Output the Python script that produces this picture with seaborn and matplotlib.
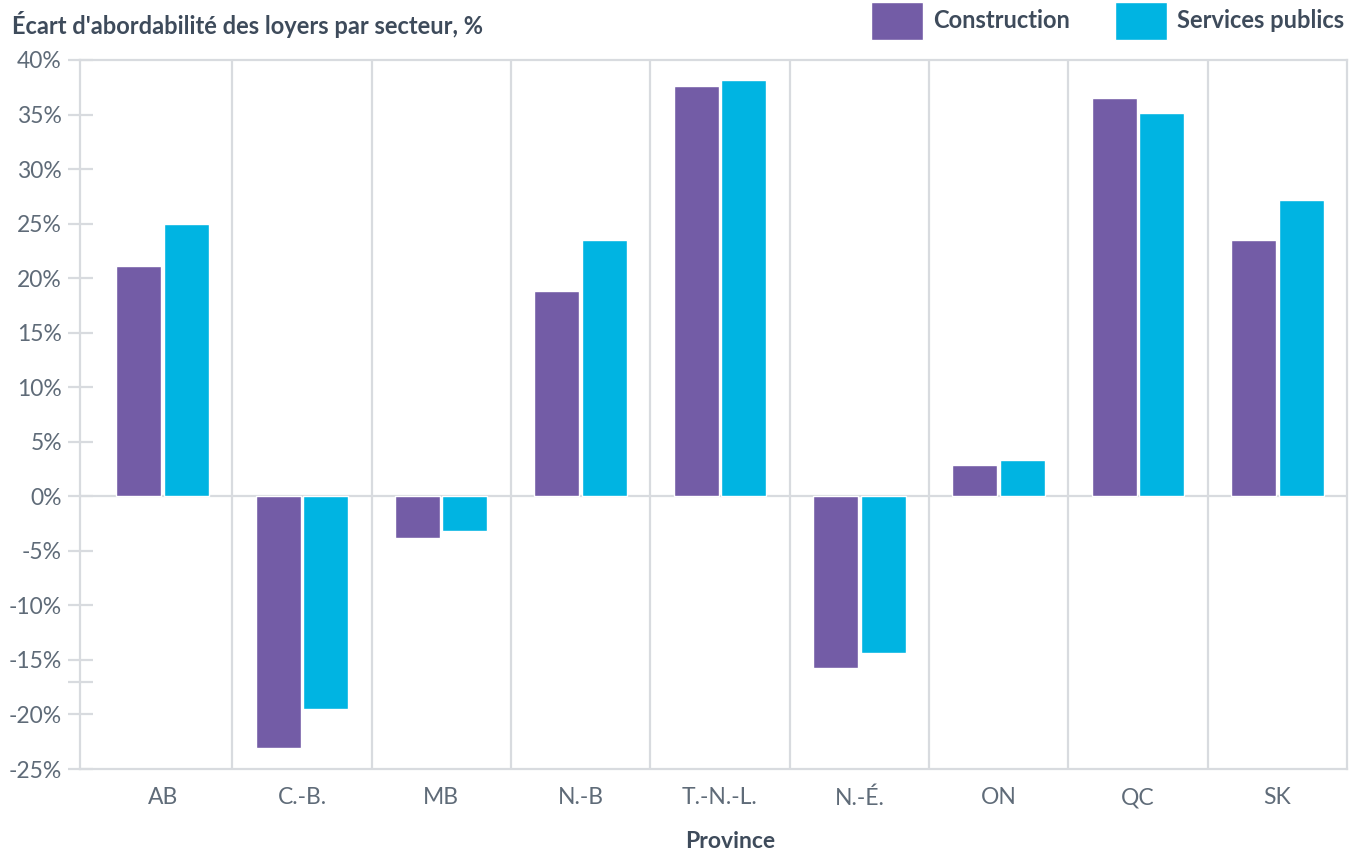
import matplotlib
matplotlib.use("Agg")
import matplotlib.pyplot as plt
import seaborn as sns
import pandas as pd
import numpy as np

provinces = ["AB", "C.-B.", "MB", "N.-B", "T.-N.-L.", "N.-É.", "ON", "QC", "SK"]
construction = [21.1, -23.1, -3.8, 18.8, 37.6, -15.7, 2.9, 36.5, 23.5]
services_publics = [25.0, -19.5, -3.2, 23.5, 38.2, -14.4, 3.3, 35.1, 27.2]
series_names = ["Construction", "Services publics"]
colors = ["#735CA6", "#00B4E2"]
y_ticks = [40, 35, 30, 25, 20, 15, 10, 5, 0, -5, -10, -15, -20, -25]

df = pd.DataFrame({
    "Province": provinces * 2,
    "Valeur": construction + services_publics,
    "Secteur": [series_names[0]] * len(provinces) + [series_names[1]] * len(provinces),
})

sns.set_theme(style="white")
plt.rcParams["font.family"] = ["Lato", "DejaVu Sans"]

grid_col = "#D8DBDF"
text_dark = "#3E4B5B"
text_gray = "#5F6B78"

fig = plt.figure(figsize=(13.57, 8.51), dpi=100)
ax = fig.add_axes([80 / 1357, 1 - 769 / 851, (1347 - 80) / 1357, (769 - 60) / 851])

sns.barplot(data=df, x="Province", y="Valeur", hue="Secteur", order=provinces,
            hue_order=series_names, palette=colors, width=0.68, gap=0.05,
            saturation=1, ax=ax, zorder=3, legend=True)

n = len(provinces)
ax.set_xlim(-0.593, n - 0.5)
ax.set_ylim(-25, 40)

for xb in np.arange(0.5, n - 0.5, 1.0):
    ax.axvline(xb, color=grid_col, lw=1.6, zorder=1)
ax.axhline(0, color=grid_col, lw=1.6, zorder=1)

for s in ax.spines.values():
    s.set_color(grid_col)
    s.set_linewidth(1.6)
    s.set_visible(True)

ax.set_yticks(y_ticks)
ax.set_yticklabels([f"{t}%" for t in y_ticks])
ax.set_yticks([-17], minor=True)
ax.tick_params(axis="y", which="both", direction="inout", length=18, width=1.6,
               color=grid_col, labelsize=16.5, labelcolor=text_gray, pad=4, left=True)
ax.tick_params(axis="x", length=0, labelsize=16.5, labelcolor=text_gray, pad=13)

ax.set_ylabel("")
ax.set_xlabel("Province", fontsize=16.5, fontweight="bold", color=text_dark)
ax.xaxis.set_label_coords((730 - 80) / 1267, -(841 - 769) / 709)
ax.xaxis.label.set_va("center")

fig.text(12 / 1357, 1 - 25 / 851, "Écart d'abordabilité des loyers par secteur, %",
         fontsize=17, fontweight="bold", color=text_dark, va="center", ha="left")

handles, labels = ax.get_legend_handles_labels()
leg = ax.legend(handles, labels, loc="center right",
                bbox_to_anchor=(1.0 - 3 / 1267, 1 + 39 / 709),
                ncol=2, frameon=False, fontsize=17, handlelength=2.2,
                handleheight=2.04, handletextpad=0.42, columnspacing=1.9,
                borderaxespad=0, borderpad=0)
for t in leg.get_texts():
    t.set_fontweight("bold")
    t.set_color(text_dark)

fig.savefig("out.png", dpi=100)
